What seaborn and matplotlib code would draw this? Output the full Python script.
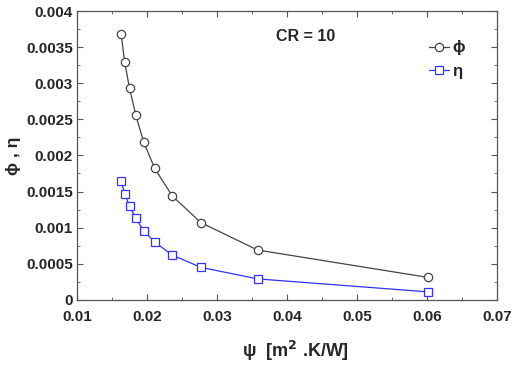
import pandas as pd
import matplotlib.pyplot as plt
import seaborn as sns
from matplotlib.ticker import MultipleLocator, FormatStrFormatter

# Data
psi = [0.0163, 0.0168, 0.0175, 0.0184, 0.0195, 0.0211, 0.0236, 0.0277, 0.0358, 0.0602]
phi = [0.00368, 0.00330, 0.00293, 0.00256, 0.00219, 0.00182, 0.00144, 0.00107, 0.00069, 0.00031]
eta = [0.00165, 0.00147, 0.00130, 0.00113, 0.00096, 0.00080, 0.00062, 0.00045, 0.00029, 0.00011]
series_names = ['\u03d5', '\u03b7']
colors = ['#444444', '#3333ff']
markers = ['o', 's']

sns.set_style('ticks')
plt.rcParams['font.family'] = ['Liberation Sans', 'DejaVu Sans']
plt.rcParams['font.weight'] = 'bold'

df = pd.DataFrame({
    'psi': psi * 2,
    'value': phi + eta,
    'series': [series_names[0]] * len(psi) + [series_names[1]] * len(psi),
})

fig, ax = plt.subplots(figsize=(5.17, 3.67), dpi=100)
sns.lineplot(data=df, x='psi', y='value', hue='series', style='series',
             palette=colors, markers=markers, dashes=False,
             linewidth=0.9, markersize=6, markeredgewidth=0.9,
             legend=False, ax=ax)

# open markers: edge in line colour
for line, c in zip(ax.lines, colors):
    line.set_markeredgecolor(c)
    line.set_markerfacecolor('white')

ax.set_xlim(0.01, 0.07)
ax.set_ylim(0, 0.004)
ax.xaxis.set_major_locator(MultipleLocator(0.01))
ax.xaxis.set_minor_locator(MultipleLocator(0.005))
ax.yaxis.set_major_locator(MultipleLocator(0.0005))
ax.yaxis.set_minor_locator(MultipleLocator(0.00025))
ax.xaxis.set_major_formatter(FormatStrFormatter('%g'))
ax.yaxis.set_major_formatter(FormatStrFormatter('%g'))
ax.tick_params(which='both', direction='in', top=True, right=True, color='#555555')
ax.tick_params(which='major', length=4, labelsize=11, pad=3)
ax.tick_params(axis='x', which='major', pad=7)
ax.tick_params(which='minor', length=2.5)
for sp in ax.spines.values():
    sp.set_color('#555555')
    sp.set_linewidth(0.9)
for lab in ax.get_xticklabels() + ax.get_yticklabels():
    lab.set_fontweight('bold')

ax.set_xlabel('\u03c8  [m$^{\\bf 2}$ .K/W]', fontsize=13, fontweight='bold')
ax.xaxis.set_label_coords(0.52, -0.135)
ax.set_ylabel('\u03d5 , \u03b7', fontsize=12.5, fontweight='bold', labelpad=4)
ax.text(0.0385, 0.00365, 'CR = 10', fontsize=11.5, fontweight='bold', va='center')

handles = [plt.Line2D([], [], color=c, marker=m, markersize=6, markerfacecolor='white',
                      markeredgecolor=c, markeredgewidth=0.9, linewidth=0.9)
           for c, m in zip(colors, markers)]
ax.legend(handles, series_names, loc='upper right', bbox_to_anchor=(0.96, 0.95),
          frameon=False, handlelength=1.2, handletextpad=0.2, labelspacing=0.5,
          prop={'weight': 'bold', 'size': 12})

fig.subplots_adjust(left=0.149, right=0.961, top=0.970, bottom=0.183)
fig.savefig('out.png', dpi=100)
